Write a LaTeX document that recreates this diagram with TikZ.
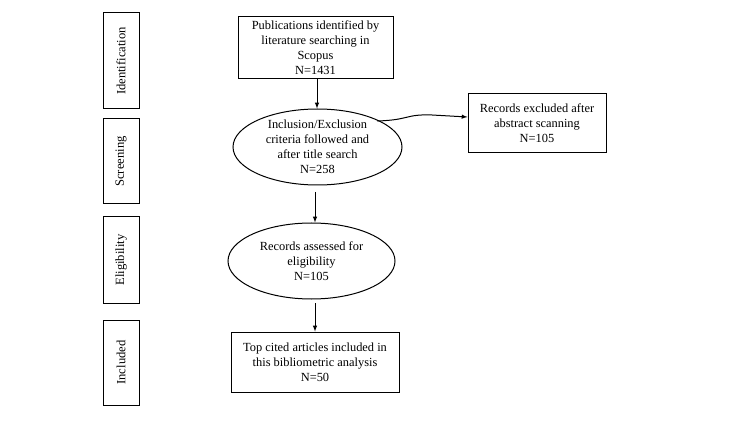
\documentclass[tikz,border=0pt]{standalone}
\usepackage{fontspec}
\setmainfont{Liberation Serif}
\usetikzlibrary{shapes.geometric}

\tikzset{
  stagebox/.style={draw, line width=1pt, rotate=90, minimum height=36pt, inner sep=0pt, font=\fontsize{12.6}{14}\selectfont},
  stepbox/.style={draw, line width=1pt, align=center, inner sep=0pt, font=\fontsize{12.4}{15}\selectfont},
  stepoval/.style={draw, line width=1pt, ellipse, align=center, inner sep=0pt, font=\fontsize{12.4}{15}\selectfont},
  flow/.style={->, >=latex, line width=1pt}
}

\begin{document}
\begin{tikzpicture}[x=1pt, y=-1pt]
% page frame
\useasboundingbox (0,0) rectangle (750,422);

% stage labels on the left
\foreach \name/\ya/\yb/\lab in {iden/13/109/Identification, scr/119/204/Screening, elig/217/303/Eligibility, incl/320/405/Included}
  \node[stagebox, minimum width={\yb-\ya}] (\name) at (121,{(\ya+\yb)/2}) {\lab};

% boxes and ovals of the flow
\node[stepbox, minimum width=155pt, minimum height=62pt] (search) at (315.5,48)
  {Publications identified by\\literature searching in\\Scopus\\N=1431};
\node[stepoval, minimum width=169pt, minimum height=76pt] (criteria) at (317.5,147)
  {Inclusion/Exclusion\\criteria followed and\\after title search\\N=258};
\node[stepoval, minimum width=167pt, minimum height=76pt] (assess) at (311.5,261)
  {Records assessed for\\eligibility\\N=105};
\node[stepbox, minimum width=168pt, minimum height=60pt] (cited) at (315,362)
  {Top cited articles included in\\this bibliometric analysis\\N=50};
\node[stepbox, minimum width=138pt, minimum height=59pt] (excluded) at (537,123.5)
  {Records excluded after\\abstract scanning\\N=105};

% connectors
\coordinate (a1) at (317,79);
\coordinate (a2) at (317,107);
\draw[flow] (search.south -| a1) -- (criteria.north -| a2);
\coordinate (b1) at (315,192);
\draw[flow] (b1) -- (assess.north -| b1);
\coordinate (c1) at (315,303);
\draw[flow] (c1) -- (cited.north -| c1);
\coordinate (d1) at (377,121);
\draw[flow] (d1) .. controls (410,120) and (405,114) .. (432,115) -- (excluded.west |- 0,117);

\end{tikzpicture}
\end{document}
